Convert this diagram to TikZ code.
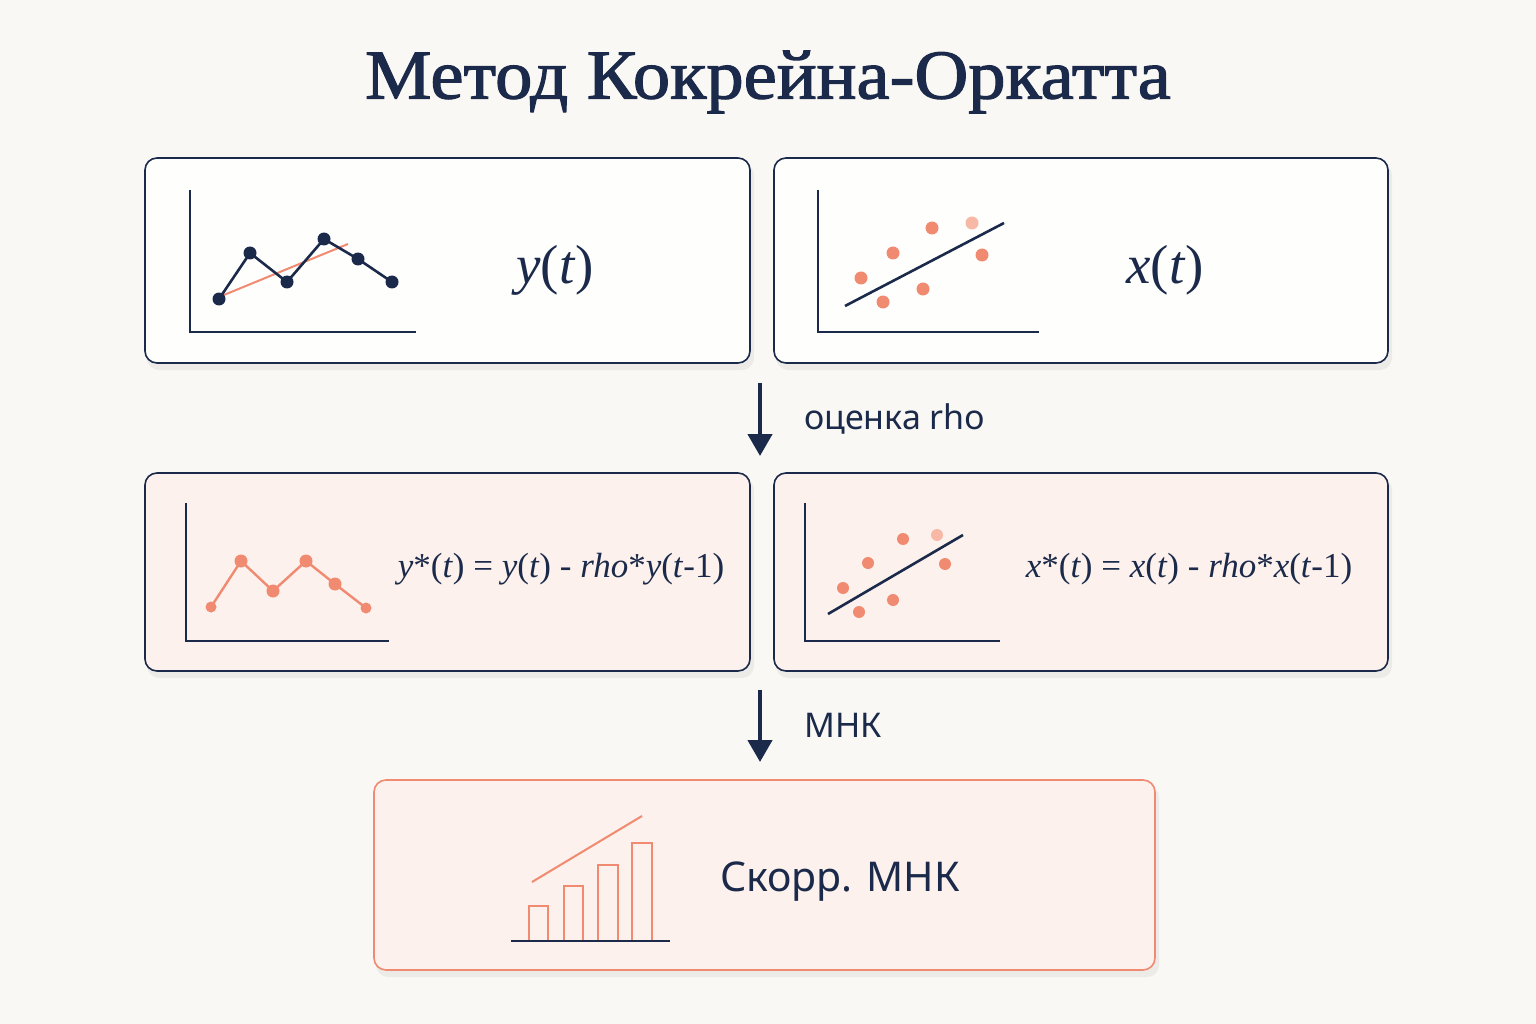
\documentclass[tikz,border=0pt]{standalone}
\usepackage{fontspec}
\setmainfont{Liberation Serif}
\setsansfont{Noto Sans}
\newfontfamily\titlefont[FakeBold=1.6]{Liberation Serif}
\usetikzlibrary{arrows.meta}
\definecolor{navy}{HTML}{1B2A4A}
\definecolor{coral}{HTML}{F08A70}
\definecolor{coralL}{HTML}{F7B9A6}
\definecolor{bgc}{HTML}{FAF8F5}
\definecolor{pinkf}{HTML}{FCF1EC}
\definecolor{bluef}{HTML}{FEFEFD}
\newcommand{\vi}[1]{\textit{#1}}
\tikzset{
  panel/.style={draw=navy, line width=1.6pt, rounded corners=12pt},
  shade/.style={fill=black, opacity=0.05, rounded corners=12pt},
  axis/.style={draw=navy, line width=1.8pt},
  ndot/.style={circle, fill=navy, inner sep=0pt, minimum size=13pt},
  cdot/.style={circle, fill=coral, inner sep=0pt, minimum size=13pt},
  ldot/.style={circle, fill=coralL, inner sep=0pt, minimum size=13pt},
  flow/.style={draw=navy, line width=4.5pt, -{Triangle[length=22pt,width=24pt]}},
  lbl/.style={font=\sffamily\fontsize{34}{36}\selectfont, text=navy, anchor=west, inner sep=0pt},
  bar/.style={draw=coral, line width=1.8pt, fill=pinkf}
}
\begin{document}
\begin{tikzpicture}[x=1pt,y=-1pt]
\useasboundingbox (0,0) rectangle (1536,1024);
\fill[bgc] (0,0) rectangle (1536,1024);
% title
\node[font=\titlefont\fontsize{70}{74}\selectfont, text=navy] (title) at (768,82) {\scalebox{1.065}[1]{Метод Кокрейна-Оркатта}};
% shadows
\fill[shade] (147,163) rectangle (754,370);
\fill[shade] (776,163) rectangle (1392,370);
\fill[shade] (147,478) rectangle (754,678);
\fill[shade] (776,478) rectangle (1392,678);
\fill[shade] (376,785) rectangle (1159,977);
% panels
\draw[panel, fill=bluef] (145,158) rectangle (750,363);
\draw[panel, fill=bluef] (774,158) rectangle (1388,363);
\draw[panel, fill=pinkf] (145,473) rectangle (750,671);
\draw[panel, fill=pinkf] (774,473) rectangle (1388,671);
\draw[panel, draw=coral, fill=pinkf] (374,780) rectangle (1155,970);
% box 1
\draw[axis] (190,190) -- (190,332) -- (416,332);
\draw[coral, line width=2pt] (219,297) -- (348,244);
\draw[navy, line width=2.6pt] (219,299) -- (250,253) -- (287,282) -- (324,239) -- (358,259) -- (392,282);
\foreach \p in {(219,299),(250,253),(287,282),(324,239),(358,259),(392,282)} \node[ndot] at \p {};
\node[font=\fontsize{55}{58}\selectfont, text=navy] (yt) at (555,270) {\vi{y}(\vi{t})};
% box 2
\draw[axis] (818,190) -- (818,332) -- (1039,332);
\draw[navy, line width=2.6pt] (845,306) -- (1004,223);
\foreach \p in {(861,278),(883,302),(893,253),(923,289),(932,228),(982,255)} \node[cdot] at \p {};
\node[ldot] at (972,223) {};
\node[font=\fontsize{55}{58}\selectfont, text=navy] (xt) at (1165,270) {\vi{x}(\vi{t})};
% arrow 1
\draw[flow] (760,383) -- (760,456);
\node[lbl] (l1) at (804,419) {оценка rho};
% box 3
\draw[axis] (186,503) -- (186,641) -- (389,641);
\draw[coral, line width=2.4pt] (211,607) -- (241,561) -- (273,591) -- (306,561) -- (335,584) -- (366,608);
\foreach \p in {(241,561),(273,591),(306,561),(335,584)} \node[cdot, minimum size=13pt] at \p {};
\foreach \p in {(211,607),(366,608)} \node[cdot, minimum size=11pt] at \p {};
\node[font=\fontsize{35}{38}\selectfont, text=navy] (fy) at (561,569) {\vi{y}*(\vi{t}) = \vi{y}(\vi{t}) - \vi{rho}*\vi{y}(\vi{t}-1)};
% box 4
\draw[axis] (805,503) -- (805,641) -- (1000,641);
\draw[navy, line width=2.6pt] (828,614) -- (963,535);
\foreach \p in {(843,588),(859,612),(868,563),(893,600),(903,539),(945,564)} \node[cdot, minimum size=12pt] at \p {};
\node[ldot, minimum size=12pt] at (937,535) {};
\node[font=\fontsize{35}{38}\selectfont, text=navy] (fx) at (1189,569) {\vi{x}*(\vi{t}) = \vi{x}(\vi{t}) - \vi{rho}*\vi{x}(\vi{t}-1)};
% arrow 2
\draw[flow] (760,690) -- (760,762);
\node[lbl] (l2) at (804,725) {МНК};
% box 5
\draw[bar] (529,941) rectangle (548,906);
\draw[bar] (564,941) rectangle (583,886);
\draw[bar] (598,941) rectangle (618,865);
\draw[bar] (632,941) rectangle (652,843);
\draw[coral, line width=2pt] (532,882) -- (642,816);
\draw[navy, line width=2pt] (511,941) -- (670,941);
\node[font=\sffamily\fontsize{41}{44}\selectfont, text=navy] (res) at (840,882) {Скорр. МНК};
\end{tikzpicture}
\end{document}
